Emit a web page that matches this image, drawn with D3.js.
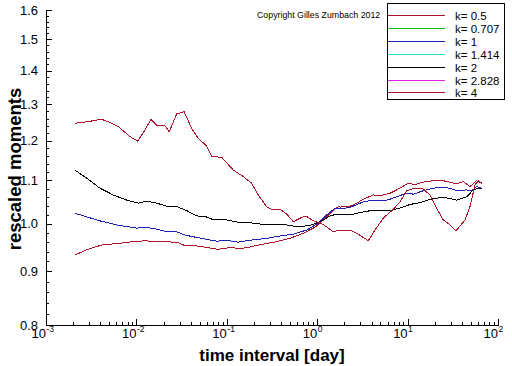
<!DOCTYPE html>
<html><head><meta charset="utf-8">
<script src="https://cdn.jsdelivr.net/npm/d3@7"></script>
<style>
body{margin:0;background:#fff}
svg{display:block}
text{font-family:"Liberation Sans",Arial,Helvetica,sans-serif}
</style>
</head><body>
<svg id="c" width="512" height="366"></svg>
<script>
// ---- data ----
const xTickExponents = [-3, -2, -1, 0, 1, 2];
const yTickValues = [0.8, 0.9, 1.0, 1.1, 1.2, 1.3, 1.4, 1.5, 1.6];
const legendLabels = ["k= 0.5", "k= 0.707", "k= 1", "k= 1.414", "k= 2", "k= 2.828", "k= 4"];
const seriesColors = ["#b0102a", "#10c010", "#2020b0", "#20e0e0", "#000000", "#e020e0", "#b0102a"];
const xLabel = "time interval [day]";
const yLabel = "rescaled moments";
const copyright = "Copyright Gilles Zumbach 2012";

const k05 = [[0.00209,0.933],[0.00282,0.944],[0.00413,0.954],[0.00605,0.957],[0.00925,0.961],[0.01245,0.963],[0.0168,0.961],[0.0279,0.960],[0.0330,0.954],[0.0426,0.953],[0.0550,0.950],[0.0805,0.945],[0.113,0.949],[0.140,0.946],[0.181,0.950],[0.254,0.956],[0.357,0.961],[0.500,0.968],[0.702,0.979],[0.946,0.992],[1.17,1.008],[1.51,1.030],[1.71,1.038],[1.79,1.037],[2.31,1.039],[2.74,1.046],[3.23,1.055],[4.18,1.065],[4.96,1.063],[6.38,1.069],[7.57,1.077],[10.2,1.093],[12.1,1.089],[14.3,1.095],[19.2,1.099],[24.8,1.099],[29.5,1.095],[34.9,1.091],[41.3,1.097],[49.0,1.085],[58.1,1.099],[66.1,1.093]];
const k0707 = [];
const k1 = [[0.00209,1.023],[0.00282,1.015],[0.00395,1.006],[0.00605,0.997],[0.0101,0.990],[0.01245,0.992],[0.0168,0.988],[0.0217,0.982],[0.0279,0.982],[0.0345,0.975],[0.0464,0.970],[0.0600,0.966],[0.0773,0.962],[0.0998,0.964],[0.134,0.960],[0.181,0.964],[0.276,0.968],[0.388,0.973],[0.545,0.977],[0.766,0.986],[1.03,1.001],[1.27,1.019],[1.57,1.034],[1.79,1.033],[2.31,1.036],[3.23,1.049],[4.18,1.053],[5.38,1.051],[6.38,1.055],[7.57,1.061],[9.77,1.069],[11.6,1.067],[14.9,1.075],[19.2,1.081],[22.8,1.083],[29.5,1.081],[34.9,1.075],[45.1,1.077],[51.2,1.075],[58.1,1.085],[66.1,1.081]];
const k1414 = [];
const k2 = [[0.00209,1.125],[0.00282,1.105],[0.00395,1.081],[0.00555,1.065],[0.00781,1.053],[0.0105,1.046],[0.0130,1.051],[0.0168,1.046],[0.0217,1.039],[0.0279,1.038],[0.0360,1.029],[0.0464,1.017],[0.0574,1.016],[0.0681,1.010],[0.0998,1.008],[0.134,1.003],[0.181,1.002],[0.254,0.998],[0.357,0.998],[0.460,0.997],[0.618,0.993],[0.832,0.996],[1.07,1.004],[1.39,1.017],[1.64,1.021],[1.79,1.021],[2.51,1.021],[3.23,1.026],[4.18,1.030],[6.67,1.030],[8.61,1.036],[10.6,1.043],[13.7,1.047],[17.7,1.055],[24.8,1.060],[34.9,1.053],[45.1,1.061],[53.4,1.077],[60.6,1.081],[66.1,1.079]];
const k2828 = [];
const k4 = [[0.00209,1.247],[0.00282,1.251],[0.00413,1.258],[0.00511,1.249],[0.00631,1.238],[0.00849,1.211],[0.0103,1.199],[0.01245,1.229],[0.0145,1.258],[0.0170,1.240],[0.0207,1.240],[0.0231,1.224],[0.0279,1.273],[0.0337,1.279],[0.0409,1.233],[0.0484,1.206],[0.0600,1.186],[0.0681,1.159],[0.0879,1.157],[0.118,1.125],[0.152,1.109],[0.188,1.093],[0.223,1.065],[0.276,1.038],[0.314,1.032],[0.388,1.032],[0.460,1.021],[0.545,1.004],[0.646,1.012],[0.752,1.017],[0.906,1.006],[1.07,1.002],[1.27,0.993],[1.51,0.982],[1.79,0.986],[2.31,0.986],[2.74,0.979],[3.68,0.963],[4.36,0.986],[5.38,1.012],[6.95,1.032],[8.24,1.049],[9.77,1.075],[12.1,1.081],[14.9,1.079],[17.7,1.065],[21.0,1.034],[24.8,1.008],[29.5,0.997],[34.3,0.984],[43.1,1.008],[49.0,1.038],[55.7,1.089],[60.6,1.099],[66.1,1.093]];
const seriesData = [k05, k0707, k1, k1414, k2, k2828, k4];

// ---- chart ----
const svg = d3.select("#c");
svg.append("rect").attr("width", 512).attr("height", 366).attr("fill", "#fff");

const x = d3.scaleLog().domain([1e-3, 1e2]).range([46, 498]);
const y = d3.scaleLog().domain([0.8, 1.6]).range([325, 10]);

// minor tick values
const xMinor = [];
for (let e = -3; e < 2; e++) for (let m = 2; m <= 9; m++) xMinor.push(m * Math.pow(10, e));
const yMinor = d3.range(0.82, 1.6, 0.02).map(v => +v.toFixed(2)).filter(v => Math.abs(v * 10 - Math.round(v * 10)) > 1e-6);

// X axis
const gx = svg.append("g").attr("transform", "translate(0,325)");
gx.call(d3.axisBottom(x).tickValues(xMinor).tickSize(-3).tickSizeOuter(0).tickFormat(""));
gx.append("g").call(d3.axisBottom(x).tickValues(xTickExponents.map(e => Math.pow(10, e))).tickSize(-6).tickSizeOuter(0).tickFormat(""));
gx.selectAll("path,line").attr("stroke", "#000").attr("shape-rendering", "crispEdges");

// X tick labels with superscripts
const xl = svg.append("g").attr("fill", "#000");
xTickExponents.forEach(e => {
  const px = x(Math.pow(10, e));
  xl.append("text").attr("x", px).attr("y", 337.5).attr("text-anchor", "end").attr("font-size", 13).text("10");
  xl.append("text").attr("x", px + 0.5).attr("y", 332).attr("text-anchor", "start").attr("font-size", 8.5).text(String(e));
});

// Y axis
const gy = svg.append("g").attr("transform", "translate(46,0)");
gy.call(d3.axisLeft(y).tickValues(yMinor).tickSize(-3).tickSizeOuter(0).tickFormat(""));
gy.append("g").call(d3.axisLeft(y).tickValues(yTickValues).tickSize(-6).tickSizeOuter(0).tickPadding(8).tickFormat(d3.format(".1f")));
gy.selectAll("path,line").attr("stroke", "#000").attr("shape-rendering", "crispEdges");
gy.selectAll("text").attr("font-size", 13).attr("font-family", "'Liberation Sans',Arial,sans-serif").attr("fill", "#000");

// Axis titles
svg.append("text").attr("x", 272).attr("y", 361).attr("text-anchor", "middle")
  .attr("font-size", 17).attr("font-weight", "bold").text(xLabel);
svg.append("text").attr("transform", "translate(21,169) rotate(-90)").attr("text-anchor", "middle")
  .attr("font-size", 18.5).attr("font-weight", "bold").text(yLabel);

// Series lines
const line = d3.line().x(d => x(d[0])).y(d => y(d[1]));
svg.append("g").selectAll("path").data(seriesData).join("path")
  .attr("d", d => d.length ? line(d) : null)
  .attr("fill", "none")
  .attr("stroke", (d, i) => seriesColors[i])
  .attr("stroke-width", 1)
  .attr("shape-rendering", "crispEdges");

// Copyright
svg.append("text").attr("x", 257).attr("y", 18).attr("font-size", 8.8).text(copyright);

// Legend
const lg = svg.append("g");
lg.append("rect").attr("x", 387.5).attr("y", 3.5).attr("width", 117).attr("height", 96)
  .attr("fill", "#fff").attr("stroke", "#000").attr("shape-rendering", "crispEdges");
legendLabels.forEach((lab, i) => {
  const ly = Math.round(15 + i * 12.9) + 0.5;
  lg.append("line").attr("x1", 388).attr("x2", 445).attr("y1", ly).attr("y2", ly)
    .attr("stroke", seriesColors[i]).attr("stroke-width", 1).attr("shape-rendering", "crispEdges");
  lg.append("text").attr("x", 455).attr("y", ly).attr("dy", "0.35em").attr("font-size", 11.5).text(lab);
});
</script>
</body></html>
